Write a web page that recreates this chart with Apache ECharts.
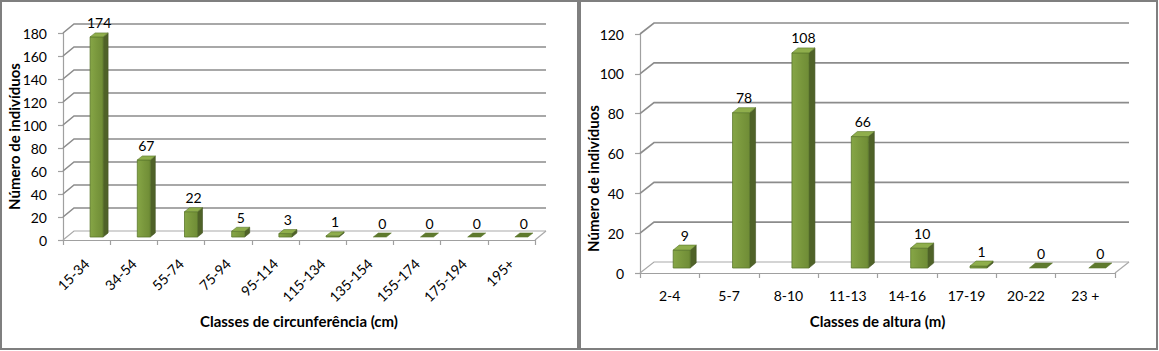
<!DOCTYPE html>
<html><head><meta charset="utf-8">
<script src="https://cdn.jsdelivr.net/npm/echarts@6/dist/echarts.min.js"></script>
<style>html,body{margin:0;padding:0;background:#fff}#c{width:1159px;height:351px}</style>
</head><body><div id="c"></div>
<script>
// ---- data ----
const circCategories = ['15-34','34-54','55-74','75-94','95-114','115-134','135-154','155-174','175-194','195+'];
const circValues = [174, 67, 22, 5, 3, 1, 0, 0, 0, 0];
const circYTicks = [0, 20, 40, 60, 80, 100, 120, 140, 160, 180];

const heightCategories = ['2-4','5-7','8-10','11-13','14-16','17-19','20-22','23 +'];
const heightValues = [9, 78, 108, 66, 10, 1, 0, 0];
const heightYTicks = [0, 20, 40, 60, 80, 100, 120];

// ---- styling ----
const FONT = 'Lato, "Open Sans", sans-serif';
const GRID_COLOR = '#8c8c8c';
const FLOOR_COLOR = '#a9a9a9';
const SIDE = '#4f6228';
const TOP = '#8fae4c';
const TOP_FLAT = '#5f7a2e';
const EDGE = '#5b772b';
const TICK_SIZE = 14;
const TITLE_SIZE = 15;

// 3D geometry for each chart (pixel offsets)
const geoLeft = { dx: 11, dy: -9, fo: 3.5, fw: 13, sx: 5, sy: -4, fy: -3 };
const geoRight = { dx: 14, dy: -11, fo: 3.5, fw: 17, sx: 6, sy: -5, fy: -5 };

function wallSeries(idx, ticks, g) {
  return {
    type: 'custom', xAxisIndex: idx, yAxisIndex: idx, z: 1, silent: true,
    data: ticks.map(t => [0, t]),
    renderItem: function (params, api) {
      const cs = params.coordSys;
      const v = api.value(1);
      const y = api.coord([0, v])[1];
      const x0 = cs.x, x1 = cs.x + cs.width;
      const children = [];
      const col = v === 0 ? FLOOR_COLOR : GRID_COLOR;
      children.push({ type: 'polyline', shape: { points: [[x0, y], [x0 + g.dx, y + g.dy], [x1 + g.dx, y + g.dy]] },
        style: { stroke: col, lineWidth: v === 0 ? 1.2 : 1.6, fill: null } });
      if (v === 0) {
        children.push({ type: 'line', shape: { x1: x1, y1: y, x2: x1 + g.dx, y2: y + g.dy },
          style: { stroke: FLOOR_COLOR, lineWidth: 1.2 } });
      }
      return { type: 'group', children: children };
    }
  };
}

function barSeries(idx, values, g) {
  return {
    type: 'custom', xAxisIndex: idx, yAxisIndex: idx, z: 3, silent: true,
    data: values.map((v, i) => [i, v]),
    renderItem: function (params, api) {
      const i = api.value(0), v = api.value(1);
      const top = api.coord([i, v]), base = api.coord([i, 0]);
      const L = top[0] + g.fo, R = L + g.fw;
      const yb = base[1] + g.fy, yt = top[1] + g.fy;
      const children = [];
      if (v > 0) {
        children.push({ type: 'polygon', shape: { points: [[R, yt], [R + g.sx, yt + g.sy], [R + g.sx, yb + g.sy], [R, yb]] },
          style: { fill: SIDE, stroke: '#435424', lineWidth: 0.6 } });
        children.push({ type: 'rect', shape: { x: L, y: yt, width: g.fw, height: yb - yt },
          style: { fill: new echarts.graphic.LinearGradient(0, 0, 1, 0, [
            { offset: 0, color: '#86a646' }, { offset: 0.5, color: '#7a983d' }, { offset: 1, color: '#6f8c36' }]),
            stroke: EDGE, lineWidth: 0.8 } });
      }
      children.push({ type: 'polygon', shape: { points: [[L, yt], [L + g.sx, yt + g.sy], [R + g.sx, yt + g.sy], [R, yt]] },
        style: { fill: v > 0 ? TOP : TOP_FLAT, stroke: EDGE, lineWidth: 0.6 } });
      children.push({ type: 'text', style: { text: String(v), x: (L + R) / 2 + g.sx / 2, y: yt + g.sy - 3,
        textAlign: 'center', textVerticalAlign: 'bottom', font: TICK_SIZE + 'px ' + FONT, fill: '#000' } });
      return { type: 'group', children: children };
    }
  };
}

const axisLineStyle = { color: '#a0a0a0', width: 1.2 };
const tickLabel = { fontSize: TICK_SIZE, color: '#000', fontFamily: FONT };
const titleStyle = { fontSize: TITLE_SIZE, fontWeight: 'bold', color: '#000', fontFamily: FONT };

const option = {
  animation: false,
  backgroundColor: '#fff',
  textStyle: { fontFamily: FONT },
  graphic: [
    { type: 'rect', shape: { x: 1, y: 1, width: 577, height: 348 }, style: { fill: 'none', stroke: '#7f7f7f', lineWidth: 2 } },
    { type: 'rect', shape: { x: 580, y: 1, width: 577, height: 348 }, style: { fill: 'none', stroke: '#7f7f7f', lineWidth: 2 } }
  ],
  grid: [
    { left: 63, top: 33, width: 472, height: 207 },
    { left: 640, top: 34, width: 475, height: 239 }
  ],
  xAxis: [
    { type: 'category', gridIndex: 0, data: circCategories,
      axisLine: { lineStyle: axisLineStyle }, axisTick: { show: true, length: 5, lineStyle: axisLineStyle },
      axisLabel: Object.assign({ rotate: 45, margin: 21 }, tickLabel),
      name: 'Classes de circunferência (cm)', nameLocation: 'middle', nameGap: 73, nameMoveOverlap: false,
      nameTextStyle: titleStyle, splitLine: { show: false } },
    { type: 'category', gridIndex: 1, data: heightCategories,
      axisLine: { lineStyle: axisLineStyle }, axisTick: { show: true, length: 5, lineStyle: axisLineStyle },
      axisLabel: Object.assign({ margin: 15 }, tickLabel),
      name: 'Classes de altura (m)', nameLocation: 'middle', nameGap: 40, nameMoveOverlap: false,
      nameTextStyle: titleStyle, splitLine: { show: false } }
  ],
  yAxis: [
    { type: 'value', gridIndex: 0, min: 0, max: 180, interval: 20,
      axisLine: { show: true, lineStyle: axisLineStyle }, axisTick: { show: true, length: 5, lineStyle: axisLineStyle },
      axisLabel: Object.assign({ margin: 16 }, tickLabel),
      name: 'Número de indivíduos', nameLocation: 'middle', nameGap: 42, nameMoveOverlap: false,
      nameTextStyle: titleStyle, splitLine: { show: false } },
    { type: 'value', gridIndex: 1, min: 0, max: 120, interval: 20,
      axisLine: { show: true, lineStyle: axisLineStyle }, axisTick: { show: true, length: 5, lineStyle: axisLineStyle },
      axisLabel: Object.assign({ margin: 16 }, tickLabel),
      name: 'Número de indivíduos', nameLocation: 'middle', nameGap: 40, nameMoveOverlap: false,
      nameTextStyle: Object.assign({ padding: [0, 50, 0, 0] }, titleStyle), splitLine: { show: false } }
  ],
  series: [
    wallSeries(0, circYTicks, geoLeft),
    barSeries(0, circValues, geoLeft),
    wallSeries(1, heightYTicks, geoRight),
    barSeries(1, heightValues, geoRight)
  ]
};

const chart = echarts.init(document.getElementById('c'), null, { renderer: 'svg' });
chart.setOption(option);
</script>
</body></html>
